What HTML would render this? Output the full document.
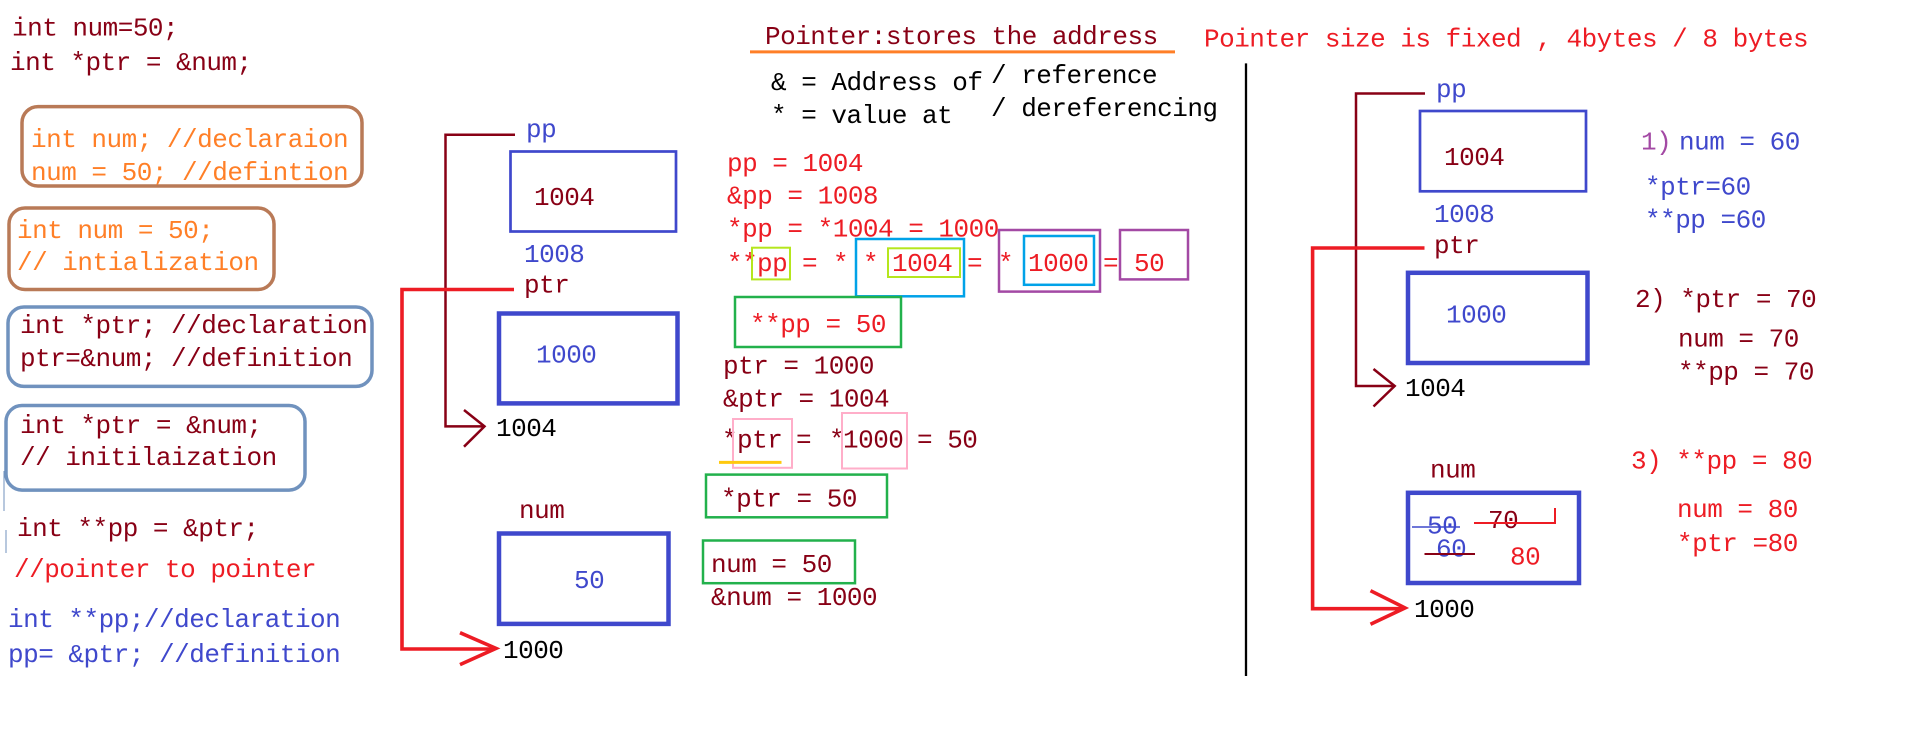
<!DOCTYPE html>
<html><head><meta charset="utf-8"><style>
html,body{margin:0;padding:0;background:#fff;width:1914px;height:734px;overflow:hidden}
svg{display:block}
text{font-family:"Liberation Mono",monospace;font-size:26px;letter-spacing:-0.5px;white-space:pre}
.dr{fill:#880015}.or{fill:#ff7f27}.bl{fill:#3f48cc}.rd{fill:#ed1c24}.bk{fill:#000}.pu{fill:#a349a4}
</style></head><body>
<svg width="1914" height="734" viewBox="0 0 1914 734" xml:space="preserve">
<!-- left column -->
<text class="dr" x="12" y="35.5">int num=50;</text>
<text class="dr" x="10" y="70">int *ptr = &amp;num;</text>
<rect x="22" y="106.6" width="340" height="79.4" rx="16" fill="none" stroke="#b97a57" stroke-width="3.5"/>
<text class="or" x="31" y="147">int num; //declaraion</text>
<text class="or" x="31" y="180">num = 50; //defintion</text>
<rect x="9" y="208" width="265" height="81.5" rx="16" fill="none" stroke="#b97a57" stroke-width="3.5"/>
<text class="or" x="17" y="238">int num = 50;</text>
<text class="or" x="17" y="270">// intialization</text>
<rect x="8" y="307" width="364" height="79.4" rx="16" fill="none" stroke="#7092be" stroke-width="3.5"/>
<text class="dr" x="20" y="333">int *ptr; //declaration</text>
<text class="dr" x="20" y="366">ptr=&amp;num; //definition</text>
<rect x="6" y="405.5" width="299" height="84.6" rx="16" fill="none" stroke="#7092be" stroke-width="3.5"/>
<text class="dr" x="20" y="433">int *ptr = &amp;num;</text>
<text class="dr" x="20" y="465">// initilaization</text>
<line x1="4" y1="471" x2="4" y2="511" stroke="#7092be" stroke-width="1"/>
<line x1="6" y1="530" x2="6" y2="553" stroke="#7092be" stroke-width="1"/>
<text class="dr" x="17" y="536">int **pp = &amp;ptr;</text>
<text class="rd" x="14" y="577">//pointer to pointer</text>
<text class="bl" x="8" y="627">int **pp;//declaration</text>
<text class="bl" x="8" y="662">pp= &amp;ptr; //definition</text>

<!-- middle diagram -->
<polyline points="515,134.8 445.5,134.8 445.5,426.4 484,426.4" fill="none" stroke="#880015" stroke-width="2.5"/>
<polyline points="464,410 484.5,426.4 464,446.7" fill="none" stroke="#880015" stroke-width="2.5"/>
<text class="bk" x="496" y="436">1004</text>
<text class="bl" x="526" y="137">pp</text>
<rect x="510.5" y="151.5" width="165.5" height="80" fill="none" stroke="#3f48cc" stroke-width="2.7"/>
<text class="dr" x="534" y="205">1004</text>
<text class="bl" x="524" y="262">1008</text>
<polyline points="514,289.5 402,289.5 402,649 494,649" fill="none" stroke="#ed1c24" stroke-width="3.6"/>
<polyline points="460,632.7 496,648.4 460,664.6" fill="none" stroke="#ed1c24" stroke-width="3.6"/>
<text class="dr" x="524" y="292.6">ptr</text>
<rect x="499" y="313.5" width="178.5" height="89.9" fill="none" stroke="#3f48cc" stroke-width="4.5"/>
<text class="bl" x="536" y="362.6">1000</text>
<text class="dr" x="519" y="518">num</text>
<rect x="499" y="533.5" width="169.5" height="90.4" fill="none" stroke="#3f48cc" stroke-width="4.5"/>
<text class="bl" x="574" y="588">50</text>
<text class="bk" x="503" y="658">1000</text>

<!-- middle text -->
<text class="dr" x="765" y="44">Pointer:stores the address</text>
<line x1="750" y1="51.9" x2="1175" y2="51.9" stroke="#ff7f27" stroke-width="3"/>
<text class="bk" x="771" y="90">&amp; = Address of</text>
<text class="bk" x="771" y="123">* = value at</text>
<text class="bk" x="991" y="83">/ reference</text>
<text class="bk" x="991" y="116">/ dereferencing</text>
<text class="rd" x="1204" y="46.4">Pointer size is fixed , 4bytes / 8 bytes</text>
<line x1="1246" y1="63.4" x2="1246" y2="676" stroke="#000" stroke-width="2.3"/>

<text class="rd" x="727" y="170.8">pp = 1004</text>
<text class="rd" x="727" y="203.7">&amp;pp = 1008</text>
<text class="rd" x="727" y="236.7">*pp = *1004 = 1000</text>
<text class="rd" x="727" y="270.8">**</text>
<text class="rd" x="757" y="270.8">pp</text>
<text class="rd" x="802" y="270.8">=</text>
<text class="rd" x="833" y="270.8">*</text>
<text class="rd" x="863" y="270.8">*</text>
<text class="rd" x="892" y="270.8">1004</text>
<text class="rd" x="967" y="270.8">=</text>
<text class="rd" x="998" y="270.8">*</text>
<text class="rd" x="1028" y="270.8">1000</text>
<text class="rd" x="1103" y="270.8">=</text>
<text class="rd" x="1134" y="270.8">50</text>
<rect x="752" y="247.7" width="38" height="31.7" fill="none" stroke="#b5e61d" stroke-width="2"/>
<rect x="856" y="239" width="108" height="57.3" fill="none" stroke="#00a2e8" stroke-width="2.5"/>
<rect x="888" y="248.3" width="72" height="28.7" fill="none" stroke="#b5e61d" stroke-width="2"/>
<rect x="999" y="230" width="101" height="61.6" fill="none" stroke="#a349a4" stroke-width="2.5"/>
<rect x="1024" y="236" width="70" height="48.8" fill="none" stroke="#00a2e8" stroke-width="2.5"/>
<rect x="1120" y="230" width="68" height="49.4" fill="none" stroke="#a349a4" stroke-width="2.5"/>
<rect x="735" y="297" width="166" height="50" fill="none" stroke="#22b14c" stroke-width="2.5"/>
<text class="rd" x="750" y="331.8">**pp = 50</text>
<text class="dr" x="723" y="373.3">ptr = 1000</text>
<text class="dr" x="723" y="406.3">&amp;ptr = 1004</text>
<text class="dr" x="722" y="447.7">*</text>
<text class="dr" x="737" y="447.7">ptr</text>
<text class="dr" x="796" y="447.7">=</text>
<text class="dr" x="829" y="447.7">*</text>
<text class="dr" x="843" y="447.7">1000</text>
<text class="dr" x="917" y="447.7">= 50</text>
<rect x="733" y="419" width="59" height="48.8" fill="none" stroke="#ffaec9" stroke-width="2"/>
<rect x="842" y="413" width="65" height="55.5" fill="none" stroke="#ffaec9" stroke-width="2"/>
<line x1="719" y1="462.4" x2="781.5" y2="462.4" stroke="#ffc90e" stroke-width="3"/>
<rect x="706" y="474.6" width="181" height="42.7" fill="none" stroke="#22b14c" stroke-width="2.5"/>
<text class="dr" x="721" y="506.3">*ptr = 50</text>
<rect x="703" y="540.5" width="152" height="42.7" fill="none" stroke="#22b14c" stroke-width="2.5"/>
<text class="dr" x="711" y="572.2">num = 50</text>
<text class="dr" x="711" y="605">&amp;num = 1000</text>

<!-- right diagram -->
<polyline points="1425,93.5 1356,93.5 1356,386 1393,386" fill="none" stroke="#880015" stroke-width="2.5"/>
<polyline points="1373.5,369 1394.7,386 1373.5,406.5" fill="none" stroke="#880015" stroke-width="2.5"/>
<text class="bl" x="1436" y="96.8">pp</text>
<rect x="1420" y="111" width="166" height="80.3" fill="none" stroke="#3f48cc" stroke-width="2.7"/>
<text class="dr" x="1444" y="165">1004</text>
<text class="bl" x="1434" y="222">1008</text>
<polyline points="1424.5,248 1312.6,248 1312.6,608.7 1403,608.7" fill="none" stroke="#ed1c24" stroke-width="3.6"/>
<polyline points="1370.5,590.7 1405,607.9 1370.5,624.3" fill="none" stroke="#ed1c24" stroke-width="3.6"/>
<text class="dr" x="1434" y="253">ptr</text>
<rect x="1408" y="272.8" width="179.5" height="90.2" fill="none" stroke="#3f48cc" stroke-width="4.5"/>
<text class="bl" x="1446" y="322.3">1000</text>
<text class="bk" x="1405" y="396">1004</text>
<text class="dr" x="1430" y="477.4">num</text>
<rect x="1408" y="492.8" width="171" height="90.2" fill="none" stroke="#3f48cc" stroke-width="4.5"/>
<text class="bl" x="1427" y="533.5">50</text>
<line x1="1412" y1="527" x2="1460" y2="527" stroke="#3f48cc" stroke-width="1.5"/>
<text class="dr" x="1488" y="528">70</text>
<polyline points="1474,523 1555,523 1555,508" fill="none" stroke="#ed1c24" stroke-width="2"/>
<text class="bl" x="1436" y="556.6">60</text>
<line x1="1424.5" y1="554" x2="1475" y2="554" stroke="#880015" stroke-width="2"/>
<text class="rd" x="1510" y="564.3">80</text>
<text class="bk" x="1414" y="617">1000</text>

<text class="pu" x="1641" y="149.6">1)</text>
<text class="bl" x="1679" y="149.6">num = 60</text>
<text class="bl" x="1645" y="194.7">*ptr=60</text>
<text class="bl" x="1645" y="227.7">**pp =60</text>
<text class="dr" x="1635" y="307">2) *ptr = 70</text>
<text class="dr" x="1678" y="346.5">num = 70</text>
<text class="dr" x="1678" y="379.5">**pp = 70</text>
<text class="rd" x="1631" y="468.6">3) **pp = 80</text>
<text class="rd" x="1677" y="517">num = 80</text>
<text class="rd" x="1677" y="551">*ptr =80</text>
</svg>
</body></html>
